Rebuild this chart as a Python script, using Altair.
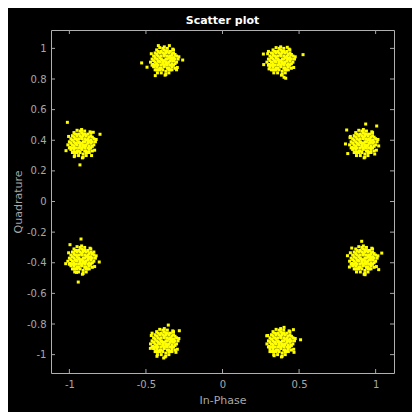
import altair as alt
import pandas as pd

# Constellation centres (In-Phase, Quadrature)
I_centers = [0.92, 0.38, -0.38, -0.92, -0.92, -0.38, 0.38, 0.92]
Q_centers = [0.38, 0.92, 0.92, 0.38, -0.38, -0.92, -0.92, -0.38]

# Shared dense core of each cluster, offsets in hundredths
core_dx = [0, 2, -2, 1, -1, 3, -3, 0, 2, -2, 3, -3, 0, 2, -2, 1, -1, 1,
           4, -4, 0, 0, 4, -4, 4, -4, 5, -5, 5, -5, 1, -1, 2, -2, 3, -3, 3, -3,
           6, -6, 1, -1, 5, -5, 5, -5, 6, -6, 6, -6, 2, -2, 3, -3,
           7, -7, 0, 1, 7, -7, 4, -4, 4, -4, 7, -7, 6, -6, 5, -5, 8, -8, 2, -1,
           -2, 3, 8, -8, 7, -6, 6, -5, 9, -9, 0, 1, -1.5, 2.5, 4.5, -3.5,
           8.5, -8.5, 5.5, -7.5, 0.5, -3, 9.5, -4.5]
core_dy = [0, 1, 1, -2, -2, -1, -1, 3, 3, 3, 2, 2, -3, -3, -3, 1, -1, -1,
           0, 0, 4, -4, 3, 3, -3, -3, 1, 1, -2, -2, 5, 5, -5, -5, 5, 5, -5, -5,
           0, -1, 6, -6, 4, 4, -4, -4, 2, 2, -3, -3, 6, 6, -6, -6,
           1, 0, 7, -7, -2, 3, 6, 6, -6, -6, 4, -4, 5, 5, -6, -6, -1, 1, 8, 8,
           -8, -8, 3, -3, -5, -6, 7, 7, 1, -1, 9, -9, 0.5, -1.5, 1.5, -0.5,
           -4.5, 4.5, 7.5, -2.5, -9.5, 8.5, 2.5, -8]

# Scattered outliers of each cluster, offsets in hundredths
out_dx = [
    [-10.9, -8.7, -10.2, 8.7, 1.5, 10.0, 7.4, -11.7],
    [-11.3, -11.1, -7.6, 14.6, 2.2, 3.3, 4.3, -8.0],
    [-14.8, 12.0, -5.9, -11.3, -3.9, 3.3, 8.0],
    [-9.3, -1.1, 12.0, -10.2, 6.5, 7.6, -4.8],
    [-2.2, -0.4, -7.6, 11.5, -10.4, -3.3, 8.0],
    [-9.1, 9.8, -0.4, 7.6, -4.8, 2.6, -8.0],
    [13.0, 8.7, -4.3, -9.1, 8.3, 2.2, -7.0],
    [-10.4, -1.1, 12.0, 10.0, 1.1, -9.1, -7.6],
]
out_dy = [
    [8.7, 3.7, -6.7, 11.3, 12.6, -1.7, -7.0, -0.4],
    [4.3, -2.6, -5.4, 3.9, -10.9, -11.5, 8.7, 6.0],
    [-1.5, 0.4, -9.8, -4.3, 9.8, 9.8, -6.0],
    [13.7, -14.1, 5.9, -4.8, -8.0, 7.2, -8.7],
    [-14.6, 13.5, 9.8, -1.5, -2.6, -8.3, 5.0],
    [-3.9, 7.6, -10.2, -6.5, -9.1, 11.3, 6.0],
    [1.7, -6.5, -8.7, 4.3, 8.3, 9.8, -6.0],
    [2.6, 12.0, 4.3, -6.5, -9.8, -4.8, 7.6],
]

x_ticks = [-1, -0.5, 0, 0.5, 1]
y_ticks = [-1, -0.8, -0.6, -0.4, -0.2, 0, 0.2, 0.4, 0.6, 0.8, 1]

rows = []
for k in range(len(I_centers)):
    for dx, dy in zip(core_dx + out_dx[k], core_dy + out_dy[k]):
        rows.append({"I": I_centers[k] + dx / 100, "Q": Q_centers[k] + dy / 100})
df = pd.DataFrame(rows)
xt = pd.DataFrame({"I": x_ticks})
yt = pd.DataFrame({"Q": y_ticks})

W = H = 343
dom = [-1.12, 1.12]
gray = "#a8a8a8"
lab = "replace(format(datum.value, '~g'), '\u2212', '-')"
xs = alt.Scale(domain=dom, nice=False, zero=False)
ys = alt.Scale(domain=dom, nice=False, zero=False)
xaxis = alt.Axis(values=x_ticks, tickSize=0, domain=False, grid=False,
                 labelPadding=6, titlePadding=5, labelExpr=lab)
yaxis = alt.Axis(values=y_ticks, tickSize=0, domain=False, grid=False,
                 labelPadding=5, titlePadding=3, labelExpr=lab)

pts = alt.Chart(df).mark_square(size=9, color="#ffff00", opacity=1, strokeWidth=0).encode(
    x=alt.X("I:Q", scale=xs, title="In-Phase", axis=xaxis),
    y=alt.Y("Q:Q", scale=ys, title="Quadrature", axis=yaxis),
)

tick_len = 4
bot = alt.Chart(xt).mark_rule(color=gray).encode(
    x=alt.X("I:Q", scale=xs, title="In-Phase", axis=xaxis),
    y=alt.value(H), y2=alt.value(H - tick_len))
top = alt.Chart(xt).mark_rule(color=gray).encode(
    x=alt.X("I:Q", scale=xs, title="In-Phase", axis=xaxis),
    y=alt.value(0), y2=alt.value(tick_len))
left = alt.Chart(yt).mark_rule(color=gray).encode(
    y=alt.Y("Q:Q", scale=ys, title="Quadrature", axis=yaxis),
    x=alt.value(0), x2=alt.value(tick_len))
right = alt.Chart(yt).mark_rule(color=gray).encode(
    y=alt.Y("Q:Q", scale=ys, title="Quadrature", axis=yaxis),
    x=alt.value(W), x2=alt.value(W - tick_len))

chart = alt.layer(pts, bot, top, left, right).properties(
    width=W, height=H,
    title=alt.TitleParams("Scatter plot", color="white", fontSize=11, fontWeight="bold",
                          font="DejaVu Sans", anchor="middle", offset=4),
    autosize=alt.AutoSizeParams(type="none"),
    padding={"left": 43, "top": 22, "right": 18, "bottom": 39},
    background="black",
).configure_view(
    stroke="#b0b0b0", strokeWidth=1, fill="black"
).configure_axis(
    labelColor=gray, titleColor=gray, labelFont="DejaVu Sans", titleFont="DejaVu Sans",
    labelFontSize=10, titleFontSize=11, titleFontWeight="normal"
)

chart.save("out.html", embed_options={"renderer": "svg", "actions": False})
